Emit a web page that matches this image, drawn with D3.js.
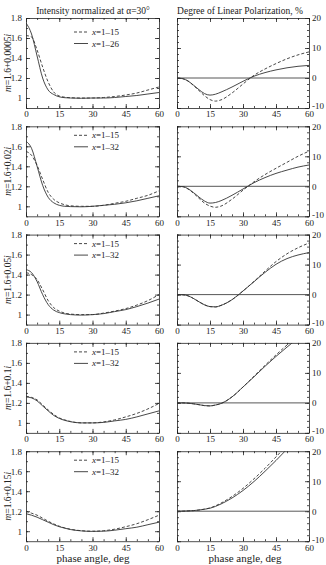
<!DOCTYPE html>
<html>
<head>
<meta charset="utf-8">
<script src="https://cdn.jsdelivr.net/npm/d3@7"></script>
<style>
  body { margin: 0; background: #fff; }
  text { font-family: "Liberation Serif", "DejaVu Serif", serif; fill: #222; }
  .axis path, .axis line { stroke: #222; stroke-width: 0.8; }
</style>
</head>
<body>
<div id="chart"></div>
<script>
// phase angles (deg) shared by every curve
const angles = [0, 2.5, 5, 7.5, 10, 12.5, 15, 17.5, 20, 25, 30, 35, 40, 45, 50, 55, 60];
const imagParts = ["0.0005", "0.02", "0.05", "0.1", "0.15"];
const dashedSize = "1–15";
const solidSizes = ["1–26", "1–32", "1–32", "1–32", "1–32"];
const xTicks = [0, 15, 30, 45, 60];
const intTicks = [1, 1.2, 1.4, 1.6, 1.8];
const polTicks = [-10, 0, 10, 20];

// intensity normalized at 30 deg, x=1-15 (dashed)
const intDashed = [
  [1.625, 1.61, 1.48, 1.31, 1.16, 1.06, 1.02, 1.008, 1.003, 1.0, 1.0, 1.005, 1.015, 1.03, 1.05, 1.08, 1.11],
  [1.55, 1.51, 1.41, 1.27, 1.14, 1.07, 1.035, 1.015, 1.005, 1.0, 1.0, 1.01, 1.03, 1.05, 1.08, 1.11, 1.155],
  [1.42, 1.40, 1.35, 1.25, 1.14, 1.07, 1.035, 1.015, 1.005, 1.0, 1.0, 1.015, 1.035, 1.06, 1.095, 1.14, 1.2],
  [1.265, 1.255, 1.23, 1.18, 1.13, 1.085, 1.05, 1.03, 1.015, 1.0, 1.0, 1.01, 1.03, 1.06, 1.095, 1.14, 1.195],
  [1.2, 1.18, 1.16, 1.13, 1.1, 1.073, 1.05, 1.033, 1.02, 1.005, 1.0, 1.005, 1.02, 1.045, 1.075, 1.115, 1.16]
];
// intensity, x=1-26 / 1-32 (solid)
const intSolid = [
  [1.75, 1.64, 1.42, 1.20, 1.08, 1.035, 1.012, 1.003, 1.0, 0.997, 1.0, 1.0, 1.005, 1.015, 1.025, 1.04, 1.055],
  [1.65, 1.58, 1.40, 1.21, 1.09, 1.035, 1.01, 1.0, 0.997, 0.995, 1.0, 1.01, 1.02, 1.035, 1.055, 1.08, 1.105],
  [1.45, 1.42, 1.33, 1.20, 1.10, 1.045, 1.02, 1.007, 1.0, 0.995, 1.0, 1.01, 1.03, 1.05, 1.08, 1.115, 1.155],
  [1.26, 1.25, 1.22, 1.17, 1.12, 1.075, 1.045, 1.025, 1.012, 1.0, 1.0, 1.005, 1.02, 1.035, 1.06, 1.09, 1.12],
  [1.175, 1.16, 1.14, 1.115, 1.09, 1.065, 1.045, 1.03, 1.017, 1.003, 0.998, 1.0, 1.01, 1.025, 1.04, 1.065, 1.09]
];
// degree of linear polarization (%), dashed
const polDashed = [
  [0, -0.2, -1.0, -2.5, -4.2, -5.9, -7.2, -7.7, -7.3, -5.0, -2.0, 0.9, 3.0, 4.8, 6.4, 7.7, 8.7],
  [0, -0.1, -0.9, -2.3, -4.0, -5.6, -6.6, -7.0, -6.6, -4.3, -1.3, 1.5, 3.9, 6.0, 8.0, 10.0, 11.7],
  [0, -0.05, -0.4, -1.3, -2.4, -3.4, -4.0, -4.1, -3.6, -1.7, 1.2, 4.4, 7.8, 11.0, 13.6, 15.6, 17.2],
  [0, 0, -0.1, -0.3, -0.6, -0.9, -1.0, -0.7, -0.2, 2.0, 5.3, 8.9, 12.5, 16.0, 19.3, 22.5, 25.6],
  [0, 0.02, 0.1, 0.2, 0.4, 0.7, 1.1, 1.8, 2.7, 4.9, 7.6, 10.8, 14.3, 18.1, 22.0, 26.0, 30.0]
];
// degree of linear polarization (%), solid
const polSolid = [
  [0, -0.2, -1.0, -2.4, -3.9, -5.2, -5.7, -5.4, -4.7, -3.0, -1.1, 0.6, 1.8, 2.7, 3.4, 3.9, 4.2],
  [0, -0.1, -0.8, -2.1, -3.6, -4.9, -5.6, -5.4, -4.8, -3.0, -0.9, 1.2, 2.9, 4.3, 5.4, 6.4, 7.1],
  [0, -0.05, -0.4, -1.3, -2.4, -3.4, -4.0, -4.1, -3.6, -1.7, 1.2, 4.3, 7.4, 10.1, 12.0, 13.2, 14.0],
  [0, 0, -0.1, -0.3, -0.6, -0.9, -1.0, -0.7, -0.2, 2.0, 5.3, 8.7, 12.2, 15.5, 18.6, 21.6, 24.4],
  [0, 0.02, 0.1, 0.2, 0.4, 0.65, 1.0, 1.6, 2.4, 4.4, 6.9, 9.9, 13.3, 16.9, 20.7, 24.6, 28.6]
];

const W = 326, H = 565;
const svg = d3.select("#chart").append("svg").attr("width", W).attr("height", H);

const xL = d3.scaleLinear().domain([0, 60]).range([26, 159]);
const xR = d3.scaleLinear().domain([0, 60]).range([177, 309]);
const top0 = 18, step = 108.3, ph = 90;
const tickFont = "9px";

// titles
svg.append("text").attr("x", 93).attr("y", 14).attr("text-anchor", "middle")
  .style("font-size", "9.5px").text("Intensity normalized at α=30°");
svg.append("text").attr("x", 240).attr("y", 14).attr("text-anchor", "middle")
  .style("font-size", "9.5px").text("Degree of Linear Polarization, %");

function frame(g, x, y, yTicks, yMinor, labelSide) {
  const b = y.range()[0], t = y.range()[1];
  const l = x.range()[0], r = x.range()[1];
  const fmt = d => String(d);
  const styleText = a => a.selectAll("text").style("font-size", tickFont).style("font-family", null);

  // bottom with labels
  g.append("g").attr("class", "axis").attr("transform", `translate(0,${b})`)
    .call(d3.axisBottom(x).tickValues(xTicks).tickSize(-4).tickSizeOuter(0).tickPadding(3).tickFormat(fmt))
    .call(styleText);
  g.append("g").attr("class", "axis").attr("transform", `translate(0,${b})`)
    .call(d3.axisBottom(x).tickValues(d3.range(0, 61, 5)).tickSize(-2).tickSizeOuter(0).tickFormat(""))
    .call(a => a.select(".domain").remove());
  // top mirror
  g.append("g").attr("class", "axis").attr("transform", `translate(0,${t})`)
    .call(d3.axisTop(x).tickValues(xTicks).tickSize(-4).tickSizeOuter(0).tickFormat(""));
  g.append("g").attr("class", "axis").attr("transform", `translate(0,${t})`)
    .call(d3.axisTop(x).tickValues(d3.range(0, 61, 5)).tickSize(-2).tickSizeOuter(0).tickFormat(""))
    .call(a => a.select(".domain").remove());

  // left and right
  const left = d3.axisLeft(y).tickValues(yTicks).tickSize(-4).tickSizeOuter(0).tickPadding(4)
    .tickFormat(labelSide === "left" ? fmt : "");
  const right = d3.axisRight(y).tickValues(yTicks).tickSize(-4).tickSizeOuter(0).tickPadding(3)
    .tickFormat(labelSide === "right" ? fmt : "");
  g.append("g").attr("class", "axis").attr("transform", `translate(${l},0)`).call(left).call(styleText);
  g.append("g").attr("class", "axis").attr("transform", `translate(${r},0)`).call(right).call(styleText)
    .call(a => a.selectAll("text").filter(d => d < 0).attr("dy", "0.1em"));
  g.append("g").attr("class", "axis").attr("transform", `translate(${l},0)`)
    .call(d3.axisLeft(y).tickValues(yMinor).tickSize(-2).tickSizeOuter(0).tickFormat(""))
    .call(a => a.select(".domain").remove());
  g.append("g").attr("class", "axis").attr("transform", `translate(${r},0)`)
    .call(d3.axisRight(y).tickValues(yMinor).tickSize(-2).tickSizeOuter(0).tickFormat(""))
    .call(a => a.select(".domain").remove());
}

imagParts.forEach((im, i) => {
  const t = top0 + i * step, b = t + ph;
  const yI = d3.scaleLinear().domain([0.9, 1.8]).range([b, t]);
  const yP = d3.scaleLinear().domain([-10, 20]).range([b, t]);

  // clip regions
  svg.append("clipPath").attr("id", "cl" + i).append("rect")
    .attr("x", xL(0)).attr("y", t).attr("width", xL(60) - xL(0)).attr("height", ph);
  svg.append("clipPath").attr("id", "cr" + i).append("rect")
    .attr("x", xR(0)).attr("y", t).attr("width", xR(60) - xR(0)).attr("height", ph);

  const gl = svg.append("g");
  const gr = svg.append("g");
  frame(gl, xL, yI, intTicks, d3.range(0.9, 1.81, 0.1).map(v => +v.toFixed(2)), "left");
  frame(gr, xR, yP, polTicks, d3.range(-10, 21, 2), "right");

  // zero line
  gr.append("line").attr("x1", xR(0)).attr("x2", xR(60)).attr("y1", yP(0)).attr("y2", yP(0))
    .attr("stroke", "#444").attr("stroke-width", 0.9);

  const lineI = d3.line().x((d, k) => xL(angles[k])).y(d => yI(d)).curve(d3.curveMonotoneX);
  const lineP = d3.line().x((d, k) => xR(angles[k])).y(d => yP(d)).curve(d3.curveMonotoneX);

  gl.append("g").attr("clip-path", `url(#cl${i})`).selectAll("path")
    .data([{v: intDashed[i], dash: "3,2"}, {v: intSolid[i], dash: null}])
    .enter().append("path")
    .attr("d", d => lineI(d.v)).attr("fill", "none").attr("stroke", "#333")
    .attr("stroke-width", 0.9).attr("stroke-dasharray", d => d.dash);
  gr.append("g").attr("clip-path", `url(#cr${i})`).selectAll("path")
    .data([{v: polDashed[i], dash: "3,2"}, {v: polSolid[i], dash: null}])
    .enter().append("path")
    .attr("d", d => lineP(d.v)).attr("fill", "none").attr("stroke", "#333")
    .attr("stroke-width", 0.9).attr("stroke-dasharray", d => d.dash);

  // legend
  const ly = t + (i === 0 ? 14 : 9);
  const legend = gl.append("g");
  [{s: dashedSize, dash: "3,2"}, {s: solidSizes[i], dash: null}].forEach((e, k) => {
    const yy = ly + k * 11.5;
    legend.append("line").attr("x1", 74).attr("x2", 88).attr("y1", yy).attr("y2", yy)
      .attr("stroke", "#333").attr("stroke-width", 0.9).attr("stroke-dasharray", e.dash);
    const tx = legend.append("text").attr("x", 92).attr("y", yy + 3).style("font-size", "9px");
    tx.append("tspan").style("font-style", "italic").text("x");
    tx.append("tspan").text("=" + e.s);
  });

  // row label
  const lab = svg.append("text").attr("transform", `translate(11,${(t + b) / 2}) rotate(-90)`)
    .attr("text-anchor", "middle").style("font-size", "9.5px");
  lab.append("tspan").style("font-style", "italic").text("m");
  lab.append("tspan").text("=1.6+" + im);
  lab.append("tspan").style("font-style", "italic").text("i");
});

// x-axis titles
svg.append("text").attr("x", 93).attr("y", 562).attr("text-anchor", "middle")
  .style("font-size", "11px").text("phase angle, deg");
svg.append("text").attr("x", 245).attr("y", 562).attr("text-anchor", "middle")
  .style("font-size", "11px").text("phase angle, deg");
</script>
</body>
</html>
